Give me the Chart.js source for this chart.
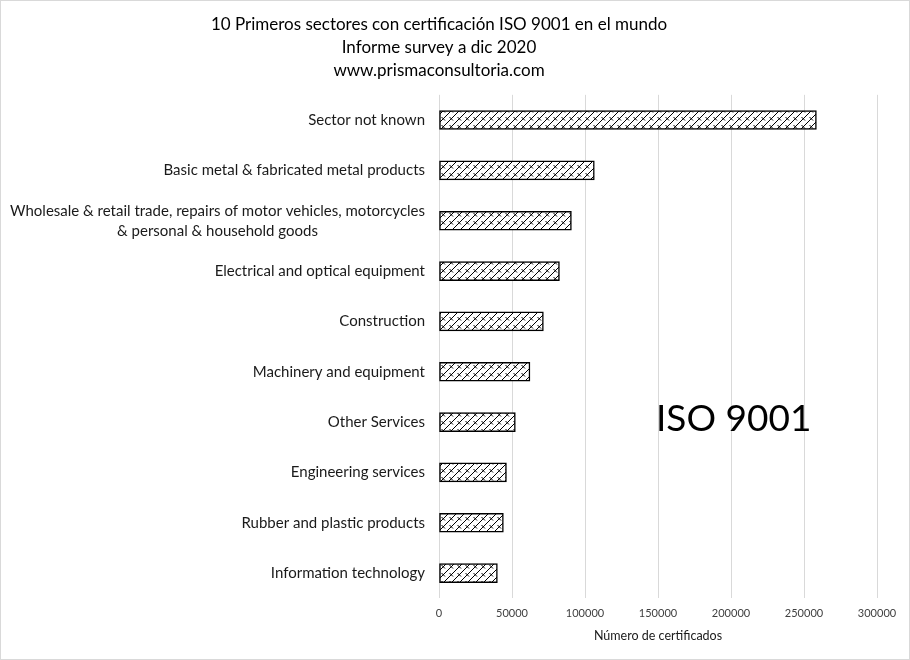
<!DOCTYPE html>
<html>
<head>
<meta charset="utf-8">
<script src="https://cdn.jsdelivr.net/npm/chart.js@4.4.1/dist/chart.umd.min.js"></script>
<style>
  html, body { margin: 0; padding: 0; background: #fff; }
  #wrap { width: 908px; height: 658px; border: 1px solid #d9d9d9; position: relative; }
</style>
</head>
<body>
<div id="wrap"><canvas id="isoChart" width="908" height="658"></canvas></div>
<script>
// datos (de arriba a abajo)
const sectores = [
  'Sector not known',
  'Basic metal & fabricated metal products',
  ['Wholesale & retail trade, repairs of motor vehicles, motorcycles', '& personal & household goods'],
  'Electrical and optical equipment',
  'Construction',
  'Machinery and equipment',
  'Other Services',
  'Engineering services',
  'Rubber and plastic products',
  'Information technology'
];
const certificados = [258500, 106400, 90700, 82500, 71500, 62300, 52300, 46200, 44100, 40000];
const xTicks = [0, 50000, 100000, 150000, 200000, 250000, 300000];
const titulo = ['10 Primeros sectores con certificación ISO 9001 en el mundo', 'Informe survey a dic 2020', 'www.prismaconsultoria.com'];

const FONT = 'Lato, "Open Sans", sans-serif';

// patrón de trama (zigzag diagonal)
function makePattern() {
  const c = document.createElement('canvas');
  c.width = 8; c.height = 8;
  const g = c.getContext('2d');
  g.fillStyle = '#fff';
  g.fillRect(0, 0, 8, 8);
  g.strokeStyle = '#000';
  g.lineWidth = 1;
  g.beginPath();
  g.moveTo(-1, 9); g.lineTo(9, -1);
  g.moveTo(0.5, 4); g.lineTo(4, 7.5);
  g.stroke();
  return g.createPattern(c, 'repeat');
}

// etiquetas del eje Y centradas línea por línea
const labelPlugin = {
  id: 'labelPlugin',
  afterDraw(chart) {
    const ctx = chart.ctx;
    const y = chart.scales.y;
    ctx.save();
    ctx.font = '15px ' + FONT;
    ctx.fillStyle = '#1a1a1a';
    ctx.textBaseline = 'middle';
    const right = y.right - 14;
    sectores.forEach((lab, i) => {
      const py = y.getPixelForTick(i);
      const lines = Array.isArray(lab) ? lab : [lab];
      const widths = lines.map(l => ctx.measureText(l).width);
      const maxW = Math.max(...widths);
      const cx = right - maxW / 2;
      ctx.textAlign = 'center';
      lines.forEach((l, k) => {
        ctx.fillText(l, cx, py + (k - (lines.length - 1) / 2) * 20);
      });
    });
    // texto grande
    ctx.font = '37px ' + FONT;
    ctx.fillStyle = '#000';
    ctx.textAlign = 'left';
    ctx.textBaseline = 'alphabetic';
    ctx.fillText('ISO 9001', 655, 430);
    ctx.restore();
  }
};

new Chart(document.getElementById('isoChart'), {
  type: 'bar',
  data: {
    labels: sectores,
    datasets: [{
      data: certificados,
      backgroundColor: makePattern(),
      borderColor: '#000',
      borderWidth: 1.5,
      barThickness: 19,
      borderSkipped: false
    }]
  },
  options: {
    indexAxis: 'y',
    responsive: false,
    animation: false,
    layout: { padding: { top: 8, right: 32, bottom: 17, left: 0 } },
    scales: {
      x: {
        min: 0,
        max: 300000,
        afterBuildTicks: (s) => { s.ticks = xTicks.map(v => ({ value: v })); },
        grid: { color: '#d9d9d9', lineWidth: 1, drawTicks: false },
        border: { display: false },
        ticks: { color: '#404040', font: { size: 11, family: FONT }, padding: 9, callback: (v) => String(v) },
        title: { display: true, text: 'Número de certificados', color: '#1a1a1a', font: { size: 12.5, family: FONT, lineHeight: 1.0 }, padding: { top: 0, bottom: 0 } }
      },
      y: {
        grid: { display: false },
        border: { display: false },
        ticks: { color: 'rgba(0,0,0,0)', font: { size: 14, family: FONT } },
        afterFit: (s) => { s.width = 438; }
      }
    },
    plugins: {
      legend: { display: false },
      tooltip: { enabled: false },
      title: {
        display: true,
        text: titulo,
        color: '#000',
        font: { size: 17, family: FONT, weight: 'normal', lineHeight: 1.35 },
        padding: { top: 4, bottom: 13 }
      }
    }
  },
  plugins: [labelPlugin]
});
</script>
</body>
</html>
